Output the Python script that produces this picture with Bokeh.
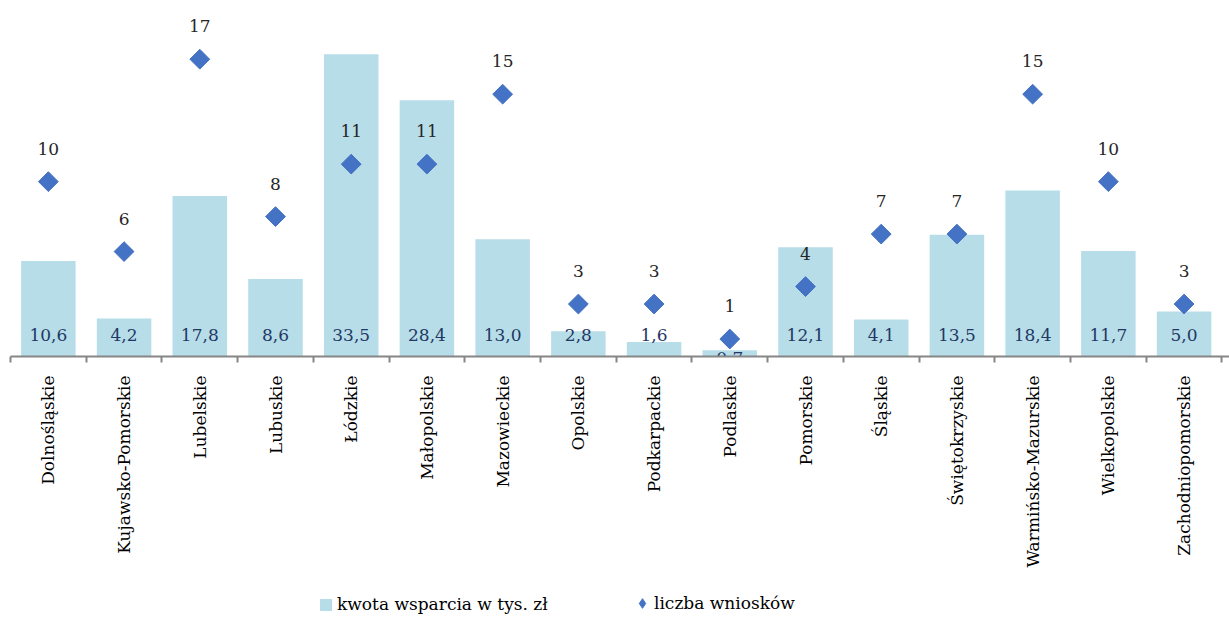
import math
import numpy as np
from bokeh.plotting import figure
from bokeh.layouts import column
from bokeh.models import (Range1d, LinearAxis, FixedTicker, ColumnDataSource,
                          Legend, LegendItem)
from bokeh.core.properties import value
from bokeh.embed import file_html
from bokeh.resources import INLINE

regions = ["Dolnośląskie", "Kujawsko-Pomorskie", "Lubelskie", "Lubuskie", "Łódzkie",
           "Małopolskie", "Mazowieckie", "Opolskie", "Podkarpackie", "Podlaskie",
           "Pomorskie", "Śląskie", "Świętokrzyskie", "Warmińsko-Mazurskie",
           "Wielkopolskie", "Zachodniopomorskie"]
kwota = [10.6, 4.2, 17.8, 8.6, 33.5, 28.4, 13.0, 2.8, 1.6, 0.7, 12.1, 4.1, 13.5, 18.4, 11.7, 5.0]
liczba = [10, 6, 17, 8, 11, 11, 15, 3, 3, 1, 4, 7, 7, 15, 10, 3]
series_names = ["kwota wsparcia w tys. zł", "liczba wniosków"]

FONT = "DejaVu Serif"
BAR_COLOR = "#B7DDE8"
PT_COLOR = "#4472C4"
n = len(regions)
xc = np.arange(n) + 0.5

src = ColumnDataSource(dict(
    x=xc,
    kwota=kwota,
    kwota_lbl=[f"{v:.1f}".replace(".", ",") for v in kwota],
    kwota_off=[-22 if v >= 1 else 1 for v in kwota],
    zero=[0] * n,
    liczba=liczba,
    liczba_lbl=[str(v) for v in liczba],
))

p = figure(width=1229, height=590, x_range=Range1d(0, n + 0.1), y_range=Range1d(0, 38.58),
           output_backend="svg", toolbar_location=None,
           x_axis_location=None, y_axis_location=None,
           min_border_left=10, min_border_right=0, min_border_top=8, min_border_bottom=234)
p.extra_y_ranges = {"cnt": Range1d(0, 19.9)}
p.xgrid.visible = False
p.ygrid.visible = False
p.outline_line_color = None
p.background_fill_color = "white"

p.vbar(x="x", top="kwota", width=0.72, source=src, fill_color=BAR_COLOR, line_color=None)
p.text(x="x", y="zero", text="kwota_lbl", source=src, y_offset="kwota_off",
       text_align="center", text_baseline="middle",
       text_font=value(FONT), text_font_size="17px", text_color="#1F3864")

p.scatter(x="x", y="liczba", source=src, y_range_name="cnt", marker="square",
          angle=math.pi / 4, size=14, fill_color=PT_COLOR, line_color=PT_COLOR)
p.text(x="x", y="liczba", text="liczba_lbl", source=src, y_range_name="cnt",
       y_offset=-33, text_align="center", text_baseline="middle",
       text_font=value(FONT), text_font_size="17px", text_color="#262626")

ax = LinearAxis(ticker=FixedTicker(ticks=list(xc), minor_ticks=list(range(n + 1))))
ax.major_label_overrides = {float(x): r for x, r in zip(xc, regions)}
ax.major_label_orientation = math.pi / 2
ax.major_tick_line_color = None
ax.major_tick_out = 0
ax.major_tick_in = 0
ax.major_label_standoff = 13
ax.minor_tick_out = 6
ax.minor_tick_in = 0
ax.minor_tick_line_color = "#868686"
ax.minor_tick_line_width = 2
ax.axis_line_color = "#868686"
ax.axis_line_width = 2
ax.major_label_text_font = FONT
ax.major_label_text_font_size = "17px"
ax.major_label_text_color = "#000000"
p.add_layout(ax, "below")

# legend strip (legend-only renderers hold no visible data)
q = figure(width=1229, height=27, x_range=Range1d(0, 1), y_range=Range1d(0, 1),
           output_backend="svg", toolbar_location=None,
           x_axis_location=None, y_axis_location=None,
           min_border_left=0, min_border_right=0, min_border_top=0, min_border_bottom=0)
q.xgrid.visible = False
q.ygrid.visible = False
q.outline_line_color = None
dummy = ColumnDataSource(dict(x=[float("nan")], y=[float("nan")]))
lb = q.vbar(x="x", top="y", width=0.1, source=dummy, fill_color=BAR_COLOR, line_color=None)
lp = q.scatter(x="x", y="y", source=dummy, marker="diamond", size=14,
               fill_color=PT_COLOR, line_color=PT_COLOR)

common = dict(orientation="horizontal", label_text_font=FONT, label_text_font_size="17px",
              label_text_color="#000000", border_line_color=None,
              background_fill_alpha=0, padding=0, margin=0)
leg1 = Legend(items=[LegendItem(label=series_names[0], renderers=[lb])],
              location=(308, 3), glyph_width=15, glyph_height=15, label_standoff=4, **common)
leg2 = Legend(items=[LegendItem(label=series_names[1], renderers=[lp])],
              location=(620, 1), glyph_width=24, glyph_height=26, label_standoff=0, **common)
q.add_layout(leg1, "center")
q.add_layout(leg2, "center")

layout = column(p, q, spacing=0)
open("out.html", "w").write(file_html(layout, INLINE))
